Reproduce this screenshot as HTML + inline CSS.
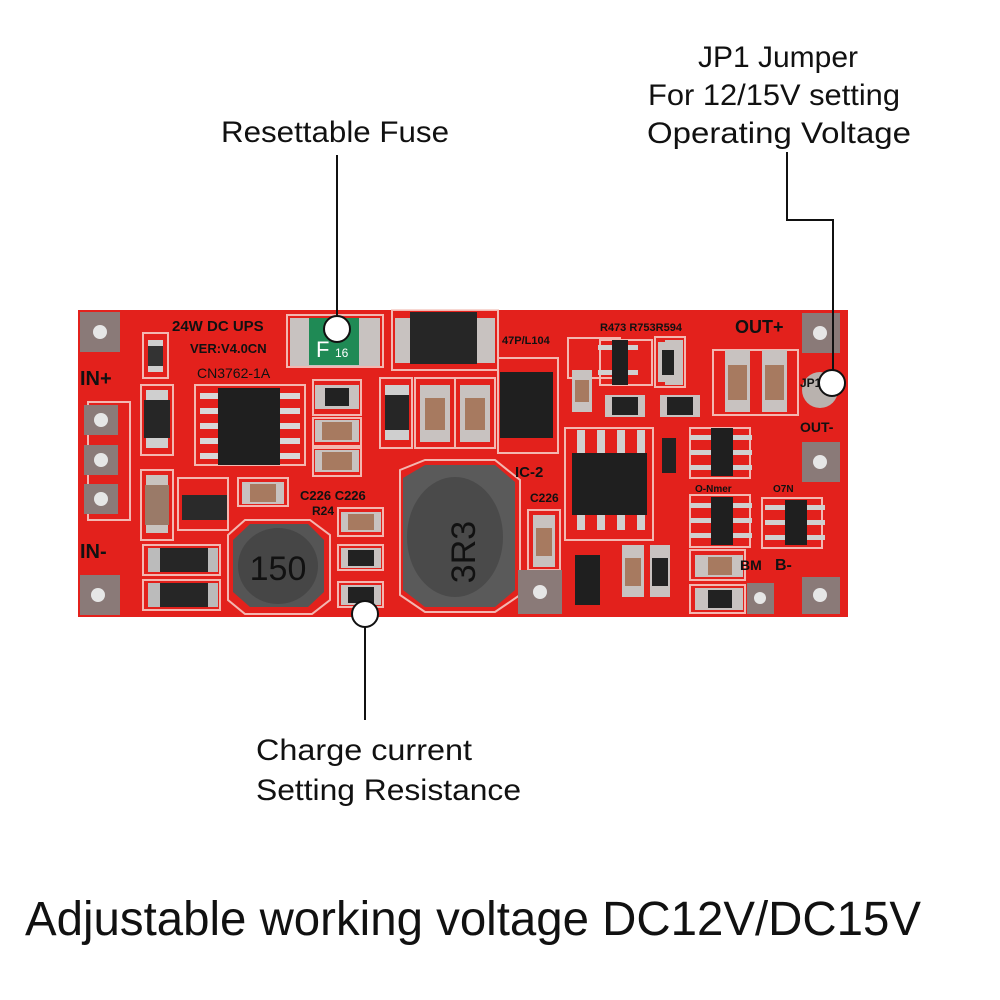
<!DOCTYPE html>
<html><head><meta charset="utf-8"><style>
html,body{margin:0;padding:0;background:#fff}
svg{display:block}
text{font-family:"Liberation Sans",sans-serif;fill:#111}
</style></head><body>
<svg width="1000" height="1000" viewBox="0 0 1000 1000" xmlns="http://www.w3.org/2000/svg">
<rect width="1000" height="1000" fill="#fff"/>
<!-- PCB -->
<rect x="78" y="310" width="770" height="307" fill="#e3211c"/>
<g fill="none" stroke="#f6d2cc" stroke-width="2" opacity="0.85">
<rect x="88" y="402" width="42" height="118"/>
<rect x="143" y="333" width="25" height="45"/>
<rect x="141" y="385" width="32" height="70"/>
<rect x="141" y="470" width="32" height="70"/>
<rect x="195" y="385" width="110" height="80"/>
<rect x="313" y="380" width="48" height="35"/>
<rect x="313" y="418" width="48" height="28"/>
<rect x="313" y="448" width="48" height="28"/>
<rect x="287" y="315" width="96" height="52"/>
<rect x="392" y="310" width="106" height="60"/>
<rect x="380" y="378" width="32" height="70"/>
<rect x="415" y="378" width="40" height="70"/>
<rect x="455" y="378" width="40" height="70"/>
<rect x="178" y="478" width="50" height="52"/>
<rect x="238" y="478" width="50" height="28"/>
<rect x="338" y="508" width="45" height="28"/>
<rect x="338" y="545" width="45" height="25"/>
<rect x="338" y="582" width="45" height="25"/>
<rect x="143" y="545" width="77" height="30"/>
<rect x="143" y="580" width="77" height="30"/>
<rect x="498" y="358" width="60" height="95"/>
<rect x="565" y="428" width="88" height="112"/>
<rect x="568" y="338" width="52" height="40"/>
<rect x="600" y="340" width="52" height="45"/>
<rect x="655" y="337" width="30" height="50"/>
<rect x="690" y="428" width="60" height="50"/>
<rect x="690" y="495" width="60" height="52"/>
<rect x="762" y="498" width="60" height="50"/>
<rect x="713" y="350" width="85" height="65"/>
<rect x="690" y="550" width="55" height="30"/>
<rect x="690" y="585" width="55" height="28"/>
<rect x="528" y="510" width="32" height="60"/>
<polygon points="400,470 425,460 495,460 520,480 520,595 495,612 425,612 400,595"/>
<polygon points="228,535 245,520 310,520 330,535 330,600 312,614 245,614 228,600"/>
</g>
<!-- pads -->
<g fill="#8a7a78">
<rect x="80" y="312" width="40" height="40"/>
<rect x="80" y="575" width="40" height="40"/>
<rect x="84" y="405" width="34" height="30"/>
<rect x="84" y="445" width="34" height="30"/>
<rect x="84" y="484" width="34" height="30"/>
<rect x="802" y="313" width="38" height="40"/>
<rect x="802" y="442" width="38" height="40"/>
<rect x="802" y="577" width="38" height="37"/>
<rect x="747" y="583" width="27" height="31"/>
<rect x="518" y="570" width="44" height="44"/>
</g>
<g fill="#e6e6e6">
<circle cx="100" cy="332" r="7"/><circle cx="98" cy="595" r="7"/>
<circle cx="101" cy="420" r="7"/><circle cx="101" cy="460" r="7"/><circle cx="101" cy="499" r="7"/>
<circle cx="820" cy="333" r="7"/><circle cx="820" cy="462" r="7"/><circle cx="820" cy="595" r="7"/>
<circle cx="760" cy="598" r="6"/><circle cx="540" cy="592" r="7"/>
<circle cx="820" cy="390" r="18" fill="#b9b2ae"/>
</g>
<!-- fuse -->
<rect x="290" y="318" width="90" height="48" fill="#c8c2c0"/>
<rect x="309" y="318" width="50" height="47" fill="#1f8a55"/>
<text x="316" y="357" font-size="22" style="fill:#fff">F</text>
<text x="335" y="357" font-size="12" style="fill:#fff">16</text>
<!-- diode top -->
<rect x="395" y="318" width="100" height="45" fill="#c8c2c0"/>
<rect x="410" y="312" width="67" height="52" fill="#262626"/>
<!-- CN3762 -->
<g fill="#d8d8d8">
<rect x="200" y="393" width="100" height="6"/><rect x="200" y="408" width="100" height="6"/>
<rect x="200" y="423" width="100" height="6"/><rect x="200" y="438" width="100" height="6"/><rect x="200" y="453" width="100" height="6"/>
</g>
<rect x="218" y="388" width="62" height="77" fill="#1f1f1f"/>
<!-- small diodes -->
<rect x="146" y="390" width="22" height="58" fill="#cfcfcf"/><rect x="144" y="400" width="26" height="38" fill="#262626"/>
<rect x="146" y="475" width="22" height="58" fill="#c9c3bf"/><rect x="145" y="485" width="24" height="40" fill="#9a7a68"/>
<rect x="148" y="340" width="15" height="32" fill="#cfcfcf"/><rect x="148" y="346" width="15" height="20" fill="#333"/>
<rect x="148" y="548" width="70" height="24" fill="#bbb"/><rect x="160" y="548" width="48" height="24" fill="#262626"/>
<rect x="148" y="583" width="70" height="24" fill="#bbb"/><rect x="160" y="583" width="48" height="24" fill="#262626"/>
<rect x="182" y="495" width="45" height="25" fill="#2a2a2a"/>
<rect x="385" y="385" width="24" height="55" fill="#cfcfcf"/><rect x="385" y="395" width="24" height="35" fill="#262626"/>
<!-- caps -->
<g fill="#c8c2c0">
<rect x="420" y="385" width="30" height="57"/><rect x="460" y="385" width="30" height="57"/>
<rect x="315" y="385" width="44" height="24"/><rect x="315" y="420" width="44" height="22"/><rect x="315" y="450" width="44" height="22"/>
<rect x="242" y="482" width="42" height="22"/><rect x="341" y="512" width="40" height="20"/>
<rect x="341" y="548" width="40" height="20"/><rect x="341" y="585" width="40" height="20"/>
<rect x="725" y="350" width="25" height="62"/><rect x="762" y="350" width="25" height="62"/>
<rect x="533" y="515" width="22" height="52"/><rect x="665" y="340" width="18" height="45"/>
<rect x="622" y="545" width="22" height="52"/><rect x="650" y="545" width="20" height="52"/>
<rect x="695" y="555" width="48" height="22"/><rect x="695" y="588" width="48" height="22"/>
<rect x="572" y="370" width="20" height="42"/><rect x="660" y="395" width="40" height="22"/>
<rect x="605" y="395" width="40" height="22"/><rect x="658" y="342" width="20" height="40"/>
</g>
<g fill="#a77a60">
<rect x="425" y="398" width="20" height="32"/><rect x="465" y="398" width="20" height="32"/>
<rect x="322" y="422" width="30" height="18"/><rect x="322" y="452" width="30" height="18"/>
<rect x="250" y="484" width="26" height="18"/><rect x="348" y="514" width="26" height="16"/>
<rect x="728" y="365" width="19" height="35"/><rect x="765" y="365" width="19" height="35"/>
<rect x="536" y="528" width="16" height="28"/><rect x="625" y="558" width="16" height="28"/>
<rect x="708" y="557" width="24" height="18"/><rect x="575" y="380" width="14" height="22"/>
</g>
<g fill="#222">
<rect x="325" y="388" width="24" height="18"/><rect x="348" y="550" width="26" height="16"/>
<rect x="348" y="587" width="26" height="16"/><rect x="652" y="558" width="16" height="28"/>
<rect x="708" y="590" width="24" height="18"/><rect x="612" y="397" width="26" height="18"/>
<rect x="667" y="397" width="26" height="18"/><rect x="662" y="350" width="12" height="25"/>
<rect x="662" y="438" width="14" height="35"/>
</g>
<!-- inductors -->
<polygon points="403,478 425,465 495,465 515,482 515,590 495,607 425,607 403,590" fill="#5a5a5a"/>
<ellipse cx="455" cy="537" rx="48" ry="60" fill="#4a4a4a"/>
<text x="440" y="557" font-size="34" transform="rotate(-90 455 537)" style="fill:#111" text-anchor="middle">3R3</text>
<polygon points="233,540 250,524 308,524 324,540 324,592 308,607 250,607 233,592" fill="#555"/>
<ellipse cx="278" cy="566" rx="40" ry="38" fill="#464646"/>
<text x="278" y="580" font-size="34" text-anchor="middle" style="fill:#111">150</text>
<!-- ICs -->
<rect x="500" y="372" width="53" height="66" fill="#1f1f1f"/>
<g fill="#d0d0d0">
<rect x="577" y="430" width="8" height="100"/><rect x="597" y="430" width="8" height="100"/>
<rect x="617" y="430" width="8" height="100"/><rect x="637" y="430" width="8" height="100"/>
<rect x="690" y="435" width="62" height="5"/><rect x="690" y="450" width="62" height="5"/><rect x="690" y="465" width="62" height="5"/>
<rect x="690" y="503" width="62" height="5"/><rect x="690" y="518" width="62" height="5"/><rect x="690" y="533" width="62" height="5"/>
<rect x="765" y="505" width="60" height="5"/><rect x="765" y="520" width="60" height="5"/><rect x="765" y="535" width="60" height="5"/>
<rect x="598" y="345" width="40" height="5"/><rect x="598" y="370" width="40" height="5"/>
</g>
<rect x="572" y="453" width="75" height="62" fill="#1f1f1f"/>
<rect x="711" y="428" width="22" height="48" fill="#1f1f1f"/>
<rect x="711" y="497" width="22" height="48" fill="#1f1f1f"/>
<rect x="785" y="500" width="22" height="45" fill="#1f1f1f"/>
<rect x="612" y="340" width="16" height="45" fill="#1f1f1f"/>
<rect x="575" y="555" width="25" height="50" fill="#1f1f1f"/>
<!-- silkscreen labels -->
<g style="fill:#fbe9e6" font-weight="bold">
<text x="172" y="331" font-size="15">24W DC UPS</text>
<text x="190" y="353" font-size="13">VER:V4.0CN</text>
<text x="197" y="378" font-size="14" font-weight="normal">CN3762-1A</text>
<text x="80" y="385" font-size="20">IN+</text>
<text x="80" y="558" font-size="20">IN-</text>
<text x="735" y="333" font-size="18">OUT+</text>
<text x="800" y="432" font-size="14">OUT-</text>
<text x="600" y="331" font-size="11">R473 R753R594</text>
<text x="502" y="344" font-size="11">47P/L104</text>
<text x="515" y="477" font-size="15">IC-2</text>
<text x="530" y="502" font-size="12">C226</text>
<text x="300" y="500" font-size="13">C226 C226</text>
<text x="312" y="515" font-size="12">R24</text>
<text x="695" y="492" font-size="10">O-Nmer</text>
<text x="773" y="492" font-size="10">O7N</text>
<text x="775" y="570" font-size="16">B-</text>
<text x="740" y="570" font-size="14">BM</text>
<text x="800" y="387" font-size="12">JP1</text>
</g>
<!-- callouts -->
<g stroke="#111" stroke-width="2" fill="none">
<line x1="337" y1="155" x2="337" y2="316"/>
<polyline points="787,152 787,220 833,220 833,370"/>
<line x1="365" y1="627" x2="365" y2="720"/>
</g>
<g fill="#fff" stroke="#111" stroke-width="2">
<circle cx="337" cy="329" r="13"/>
<circle cx="832" cy="383" r="13"/>
<circle cx="365" cy="614" r="13"/>
</g>
<!-- labels -->
<text x="221" y="142" font-size="30" textLength="228" lengthAdjust="spacingAndGlyphs">Resettable Fuse</text>
<text x="698" y="67" font-size="30" textLength="160" lengthAdjust="spacingAndGlyphs">JP1 Jumper</text>
<text x="648" y="105" font-size="30" textLength="252" lengthAdjust="spacingAndGlyphs">For 12/15V setting</text>
<text x="647" y="143" font-size="30" textLength="264" lengthAdjust="spacingAndGlyphs">Operating Voltage</text>
<text x="256" y="760" font-size="30" textLength="216" lengthAdjust="spacingAndGlyphs">Charge current</text>
<text x="256" y="800" font-size="30" textLength="265" lengthAdjust="spacingAndGlyphs">Setting Resistance</text>
<text x="25" y="935" font-size="48" textLength="896" lengthAdjust="spacingAndGlyphs">Adjustable working voltage DC12V/DC15V</text>
</svg>
</body></html>
